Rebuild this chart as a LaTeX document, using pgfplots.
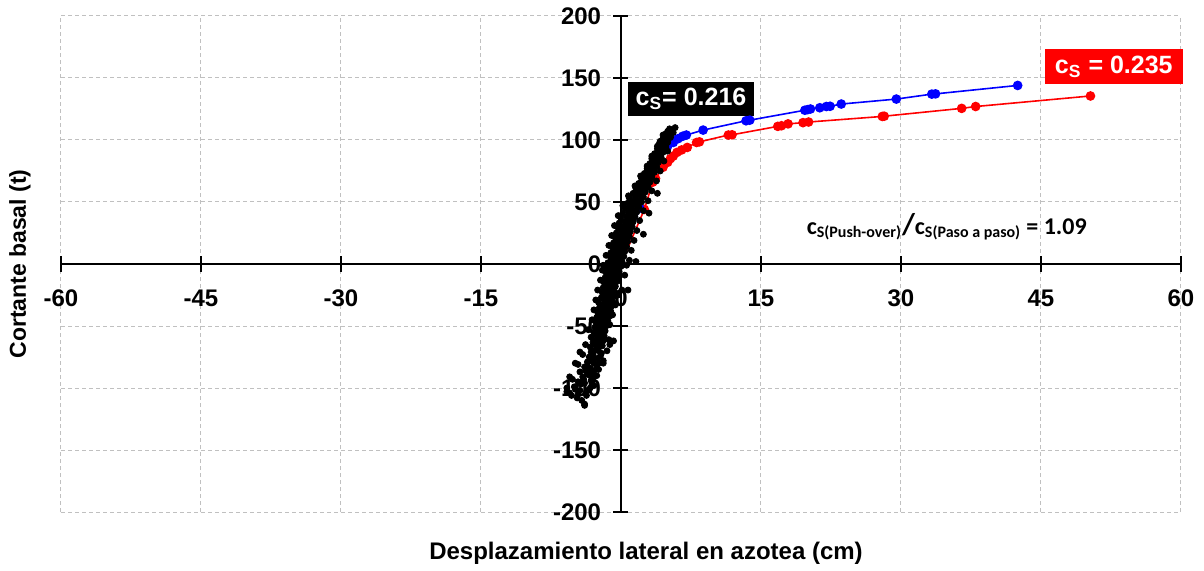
\documentclass[border=0pt]{standalone}
\usepackage{pgfplots}
\pgfplotsset{compat=1.18}
\usepackage{pgfplotstable}
\usepackage{fontspec}
\setmainfont{Liberation Sans}
\newfontfamily\calib{Carlito}
\definecolor{gridgray}{RGB}{192,192,192}

\pgfplotstableread{
x y
0 0
2.0 45
3.1 76
3.8 86
4.5 92
5.0 95
5.6 98
6.1 101
6.6 103
7.0 104
8.8 108
13.4 115.5
13.8 116
19.7 124
20.0 124.5
20.3 125
21.3 126
22.0 127
22.4 127.2
23.6 129
29.5 133
33.3 137
33.7 137.2
42.5 144
}\blueT

\pgfplotstableread{
x y
0 0
2.5 44
3.4 66
3.7 69
4.5 78
5.0 82
5.3 85
5.6 87
6.0 90
6.5 92
7.1 94
8.1 98
8.4 98.5
11.5 104
11.9 104.2
16.8 111
17.2 111.5
17.9 113
19.5 114
20.1 114.5
28.0 119
28.2 119.2
36.5 125.5
38.0 127
50.3 135.5
}\redT

\pgfplotstableread{
x y
-5.3 -106
-4.2 -110
-3.9 -113
-5.5 -104
-5.8 -103
-4.6 -105
-3.6 -102
-4.9 -101
-5.0 -99
-3.3 -100
-4.3 -97
-2.9 -98
-4.6 -95
-3.2 -94
-3.9 -96
-5.2 -93
-4.1 -91
-3.0 -92
-3.6 -89
-2.6 -90
-4.4 -87
-2.9 -86
-3.5 -88
-2.4 -85
-3.9 -83
-2.6 -82
-3.3 -84
-4.6 -81
-3.6 -79
-2.4 -80
-3.0 -77
-1.9 -78
-3.4 -75
-2.2 -74
-2.9 -76
-4.1 -73
-3.2 -71
-2.1 -72
-2.6 -69
-1.5 -70
-3.3 -67
-2.0 -66
-2.6 -68
-3.8 -65
-3.0 -63
-1.9 -62
-2.5 -64
-1.3 -61
-3.2 -59
-1.8 -58
-2.4 -60
-0.8 -62
-2.9 -55
-1.7 -54
-2.3 -56
-3.5 -53
-2.8 -51
-1.6 -50
-2.2 -52
-1.2 -49
-2.7 -47
-1.4 -46
-2.0 -48
-3.1 -45
-2.6 -43
-1.2 -42
-1.9 -44
-0.9 -41
-2.5 -39
-1.1 -38
-1.8 -40
-2.9 -37
-2.3 -35
-1.0 -34
-1.7 -36
-0.6 -33
-2.4 -31
-0.9 -30
-1.6 -32
-2.7 -29
-2.1 -27
-0.8 -26
-1.4 -28
-0.3 -25
-2.0 -23
-0.7 -22
-1.3 -24
-2.5 -21
-1.9 -19
-0.6 -18
-1.2 -20
0.1 -21
-1.8 -15
-0.4 -14
-1.1 -16
-2.2 -13
-1.7 -11
-0.3 -10
-1.0 -12
0.4 -9
-1.6 -7
-0.2 -6
-0.8 -8
-2.0 -5
-1.5 -3
0.0 -2
-0.7 -4
0.6 -1
-1.4 1
0.1 2
-0.6 0
-1.9 -1
-1.1 5
0.3 6
-0.4 4
0.9 3
-1.1 9
0.4 10
-0.3 8
-1.6 7
-0.9 13
0.6 14
-0.1 12
1.1 11
-0.8 17
0.7 18
0.0 16
-1.3 15
-0.6 21
0.9 22
0.2 20
1.4 19
-0.5 25
1.0 26
0.3 24
-1.0 23
-0.3 29
1.2 30
0.5 28
1.7 27
-0.2 33
1.3 34
0.6 32
-0.7 31
0.0 37
1.5 38
0.8 36
2.0 35
0.2 41
1.7 42
1.0 40
-0.3 39
0.4 45
1.9 46
1.2 44
2.4 43
0.7 49
2.2 50
1.5 48
0.2 47
0.9 53
2.4 54
1.7 52
2.9 51
1.3 57
2.6 58
2.0 56
0.8 55
1.6 61
2.9 62
2.3 60
3.3 59
1.9 65
3.1 66
2.6 64
1.5 63
2.2 69
3.3 70
2.8 68
3.8 67
2.5 73
3.6 74
3.1 72
2.1 71
2.8 77
3.8 78
3.4 76
4.2 75
3.1 81
4.0 82
3.6 80
2.8 79
3.3 85
4.3 86
3.8 84
4.6 83
3.6 89
4.5 90
4.0 88
3.3 87
3.9 93
4.8 94
4.3 92
5.0 91
4.1 97
5.0 98
4.5 96
3.9 95
4.5 101
5.3 102
4.8 100
4.2 99
4.8 105
5.6 106
5.1 104
5.2 109
5.8 110
5.5 108
5.0 107
1.6 2
0.75 -21
2.4 24
3.0 41
3.9 57
-4.4 -71
-4.9 -80
-1.2 -65
-1.9 -80
-5.5 -91
-3.9 -114
-5.8 -100
-4.7 -108
-3.7 -106
-4.4 -102
-3.1 -96
-4.0 -93
-3.3 -90
-3.8 -86
-3.1 -88
-3.6 -82
-2.9 -80
-3.2 -78
-2.5 -76
-3.0 -73
-2.4 -70
-2.9 -70
-2.3 -66
-2.8 -65
-2.1 -63
-2.7 -61
-2.0 -60
-2.6 -57
-2.0 -55
-2.5 -54
-1.9 -51
-2.4 -49
-1.7 -47
-2.3 -45
-1.6 -43
-2.2 -41
-1.5 -39
-2.1 -37
-1.4 -35
-2.0 -33
-1.3 -31
-1.8 -29
-1.1 -27
-1.7 -25
-1.0 -23
-1.6 -21
-0.9 -19
-1.5 -17
-0.8 -15
-1.4 -13
-0.7 -11
-1.3 -9
-0.5 -7
-1.2 -5
-0.4 -3
-1.0 -1
-0.3 1
-0.9 3
-0.1 4
-0.7 6
0.0 8
-0.6 10
0.2 11
-0.5 14
0.3 15
-0.3 18
0.5 19
-0.1 22
0.6 23
0.1 26
0.8 27
0.2 30
0.9 31
0.4 34
1.1 35
0.6 38
1.3 39
0.8 42
1.5 43
1.0 46
1.8 47
1.2 50
2.0 51
1.5 54
2.3 55
1.8 58
2.6 59
2.1 62
2.8 63
2.4 66
3.0 67
2.6 70
3.3 71
2.9 74
3.5 75
3.2 78
3.8 79
3.4 82
4.0 83
3.7 86
4.2 87
4.0 90
4.6 91
4.2 94
4.8 95
4.6 98
5.0 99
4.9 102
5.3 103
5.3 106
4.5 104
}\blackT

\begin{document}
\begin{tikzpicture}
\begin{axis}[
  at={(0,0)}, anchor=south west,
  scale only axis,
  width=560pt, height=248pt,
  xmin=-60, xmax=60, ymin=-200, ymax=200,
  axis lines=middle,
  axis line style={line width=1.1pt, black, -},
  xtick={-60,-45,...,60},
  ytick={-200,-150,...,200},
  hide obscured x ticks=false,
  hide obscured y ticks=false,
  tick align=center,
  major tick length=7.5pt,
  tick style={line width=1.1pt, black},
  grid=major,
  major grid style={gridgray, line width=0.5pt, dash pattern=on 2pt off 1.5pt},
  /pgf/number format/assume math mode=true,
  tick label style={font=\bfseries\fontsize{12}{14}\selectfont},
  xticklabel style={anchor=north, inner sep=0pt, yshift=-9pt},
  yticklabel style={anchor=east, inner sep=0pt, xshift=-6pt},
  clip=false,
  axis on top=false,
]
\addplot[red, line width=0.8pt, mark=*, mark size=2pt, mark options={fill=red, draw=red}] table[x=x,y=y] {\redT};
\addplot[blue, line width=0.8pt, mark=*, mark size=2pt, mark options={fill=blue, draw=blue}] table[x=x,y=y] {\blueT};
\addplot[only marks, mark=*, mark size=1.5pt, mark options={fill=black, draw=black}] table[x=x,y=y] {\blackT};

\node[fill=black, text=white, inner xsep=4pt, inner ysep=3pt, font=\bfseries\fontsize{12.5}{14}\selectfont] at (axis cs:7.5,133) {c\textsubscript{S}= 0.216};
\node[fill=red, text=white, inner xsep=5pt, inner ysep=3.5pt, font=\bfseries\fontsize{12.5}{14}\selectfont] at (axis cs:52.8,159.3) {c\textsubscript{S} = 0.235};
\node[font=\calib\bfseries\fontsize{12}{14}\selectfont] at (axis cs:34.9,30) {c\textsubscript{S(Push-over)}{\fontsize{15}{15}\selectfont/}c\textsubscript{S(Paso a paso)} = 1.09};
\end{axis}
\node[rotate=90, font=\bfseries\fontsize{11.5}{14}\selectfont] at (-20.5pt,124pt) {Cortante basal (t)};
\node[font=\bfseries\fontsize{12}{14}\selectfont] at (292.5pt,-20.5pt) {Desplazamiento lateral en azotea (cm)};
\path[use as bounding box] (-30.5pt,-29pt) rectangle (571.5pt,256pt);
\end{tikzpicture}
\end{document}
